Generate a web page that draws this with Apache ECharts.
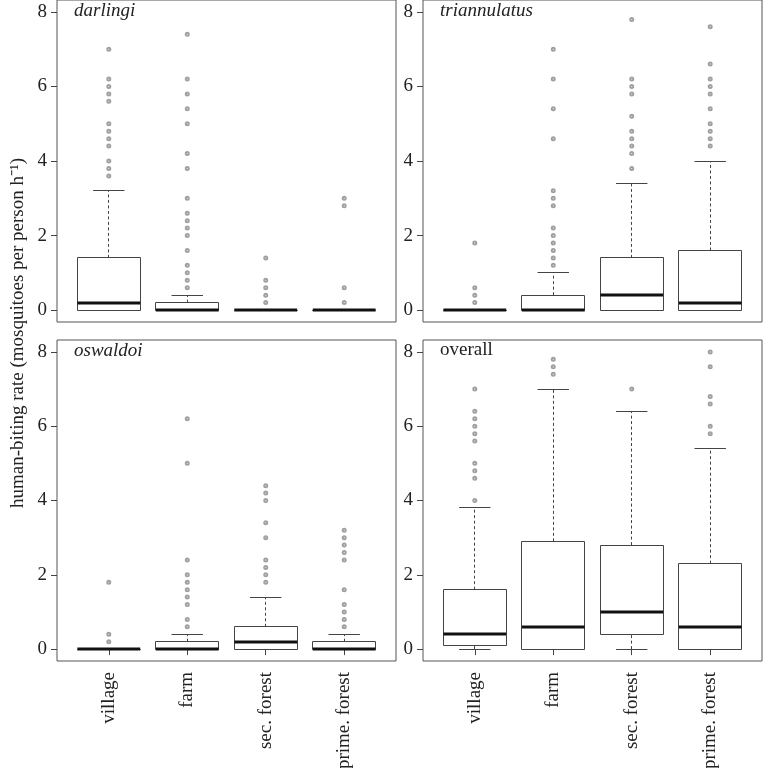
<!DOCTYPE html>
<html>
<head>
<meta charset="utf-8">
<script src="https://cdn.jsdelivr.net/npm/echarts@6/dist/echarts.min.js"></script>
<style>html,body{margin:0;padding:0;background:#fff}#c{width:764px;height:768px}</style>
</head>
<body>
<div id="c"></div>
<script>
// ---------- data ----------
const categories = ['village', 'farm', 'sec. forest', 'prime. forest'];
const yTicks = [0, 2, 4, 6, 8];
const xTicks = [1, 2, 3, 4];
const panelTitles = ['darlingi', 'triannulatus', 'oswaldoi', 'overall'];
const yTitle = 'human-biting rate (mosquitoes per person h\u207B\u00B9)';

// box stats per category: [lower whisker, Q1, median, Q3, upper whisker]
const darlingiStats = [[0, 0, 0.2, 1.4, 3.2], [0, 0, 0, 0.2, 0.4], [0, 0, 0, 0, 0], [0, 0, 0, 0, 0]];
const darlingiOutliers = [
  [3.6, 3.8, 4.0, 4.4, 4.6, 4.8, 5.0, 5.6, 5.8, 6.0, 6.2, 7.0],
  [0.6, 0.8, 1.0, 1.2, 1.6, 2.0, 2.2, 2.4, 2.6, 3.0, 3.8, 4.2, 5.0, 5.4, 5.8, 6.2, 7.4],
  [0.2, 0.4, 0.6, 0.8, 1.4],
  [0.2, 0.6, 2.8, 3.0]
];

const triannulatusStats = [[0, 0, 0, 0, 0], [0, 0, 0, 0.4, 1.0], [0, 0, 0.4, 1.4, 3.4], [0, 0, 0.2, 1.6, 4.0]];
const triannulatusOutliers = [
  [0.2, 0.4, 0.6, 1.8],
  [1.2, 1.4, 1.6, 1.8, 2.0, 2.2, 2.8, 3.0, 3.2, 4.6, 5.4, 6.2, 7.0],
  [3.8, 4.2, 4.4, 4.6, 4.8, 5.2, 5.8, 6.0, 6.2, 7.8],
  [4.4, 4.6, 4.8, 5.0, 5.4, 5.8, 6.0, 6.2, 6.6, 7.6]
];

const oswaldoiStats = [[0, 0, 0, 0, 0], [0, 0, 0, 0.2, 0.4], [0, 0, 0.2, 0.6, 1.4], [0, 0, 0, 0.2, 0.4]];
const oswaldoiOutliers = [
  [0.2, 0.4, 1.8],
  [0.6, 0.8, 1.2, 1.4, 1.6, 1.8, 2.0, 2.4, 5.0, 6.2],
  [1.8, 2.0, 2.2, 2.4, 3.0, 3.4, 4.0, 4.2, 4.4],
  [0.6, 0.8, 1.0, 1.2, 1.6, 2.4, 2.6, 2.8, 3.0, 3.2]
];

const overallStats = [[0, 0.1, 0.4, 1.6, 3.8], [0, 0, 0.6, 2.9, 7.0], [0, 0.4, 1.0, 2.8, 6.4], [0, 0, 0.6, 2.3, 5.4]];
const overallOutliers = [
  [4.0, 4.6, 4.8, 5.0, 5.6, 5.8, 6.0, 6.2, 6.4, 7.0],
  [7.4, 7.6, 7.8],
  [7.0],
  [5.8, 6.0, 6.6, 6.8, 7.6, 8.0]
];

const panelStats = [darlingiStats, triannulatusStats, oswaldoiStats, overallStats];
const panelOutliers = [darlingiOutliers, triannulatusOutliers, oswaldoiOutliers, overallOutliers];

// ---------- layout ----------
const FONT = "'Liberation Serif', 'DejaVu Serif', serif";
const TXT = '#222';
const grids = [
  { left: 57, top: 0, width: 339, height: 322 },
  { left: 423, top: 0, width: 339, height: 322 },
  { left: 57, top: 340, width: 339, height: 321 },
  { left: 423, top: 340, width: 339, height: 321 }
];

const option = {
  animation: false,
  backgroundColor: '#fff',
  grid: grids.map(g => Object.assign({
    show: true, borderColor: '#555', borderWidth: 1, backgroundColor: 'transparent',
    containLabel: false, outerBoundsMode: 'none'
  }, g)),
  xAxis: grids.map((g, i) => ({
    type: 'value', gridIndex: i, min: 0.34, max: 4.66,
    splitLine: { show: false },
    axisLine: { show: false },
    axisTick: { show: i >= 2, length: 6, customValues: xTicks, lineStyle: { color: '#444' } },
    axisLabel: {
      show: i >= 2, customValues: xTicks, rotate: 90, margin: 11,
      fontFamily: FONT, fontSize: 19, color: TXT,
      formatter: v => categories[Math.round(v) - 1] || ''
    }
  })),
  yAxis: grids.map((g, i) => ({
    type: 'value', gridIndex: i, min: -0.32, max: 8.32,
    splitLine: { show: false },
    axisLine: { show: false },
    axisTick: { show: true, length: 6, customValues: yTicks, lineStyle: { color: '#444' } },
    axisLabel: { customValues: yTicks, margin: 10, fontFamily: FONT, fontSize: 19, color: TXT }
  })),
  graphic: [
    { type: 'text', left: 74, top: 1, style: { text: panelTitles[0], font: "italic 19px 'Liberation Serif'", fill: TXT } },
    { type: 'text', left: 440, top: 1, style: { text: panelTitles[1], font: "italic 19px 'Liberation Serif'", fill: TXT } },
    { type: 'text', left: 74, top: 341, style: { text: panelTitles[2], font: "italic 19px 'Liberation Serif'", fill: TXT } },
    { type: 'text', left: 440, top: 341, style: { text: panelTitles[3], font: "19px 'Liberation Serif'", fill: TXT } },
    { type: 'text', x: 18, y: 333, rotation: Math.PI / 2,
      style: { text: yTitle, font: "19px 'Liberation Serif'", fill: TXT, align: 'center', verticalAlign: 'middle' } }
  ],
  series: []
};

function crisp(v) { return Math.round(v - 0.5) + 0.5; }

function renderBox(params, api) {
  const x = api.value(0);
  const lo = api.value(1), q1 = api.value(2), med = api.value(3), q3 = api.value(4), hi = api.value(5);
  const hw = 0.4, cw = 0.2;
  const P = (a, b) => api.coord([a, b]);
  const stroke = '#444';
  const children = [];
  const cx = crisp(P(x, 0)[0]);
  if (hi > q3) {
    children.push({ type: 'line', shape: { x1: cx, y1: P(x, q3)[1], x2: cx, y2: P(x, hi)[1] },
      style: { stroke: stroke, lineWidth: 1, lineDash: [3, 2.5] } });
  }
  if (q1 > lo) {
    children.push({ type: 'line', shape: { x1: cx, y1: P(x, lo)[1], x2: cx, y2: P(x, q1)[1] },
      style: { stroke: stroke, lineWidth: 1, lineDash: [3, 2.5] } });
  }
  [hi, lo].forEach(v => {
    const a = P(x - cw, v), b = P(x + cw, v);
    children.push({ type: 'line', shape: { x1: a[0], y1: crisp(a[1]), x2: b[0], y2: crisp(b[1]) },
      style: { stroke: stroke, lineWidth: 1 } });
  });
  const tl = P(x - hw, q3), br = P(x + hw, q1);
  const rx = crisp(tl[0]), ry = crisp(tl[1]);
  children.push({ type: 'rect',
    shape: { x: rx, y: ry, width: crisp(br[0]) - rx, height: crisp(br[1]) - ry },
    style: { fill: '#fff', stroke: stroke, lineWidth: 1 } });
  const m1 = P(x - hw, med), m2 = P(x + hw, med);
  children.push({ type: 'line', shape: { x1: m1[0], y1: Math.round(m1[1]), x2: m2[0], y2: Math.round(m2[1]) },
    style: { stroke: '#111', lineWidth: 3 } });
  return { type: 'group', children: children };
}

for (let i = 0; i < 4; i++) {
  const boxData = panelStats[i].map((s, k) => [xTicks[k]].concat(s));
  option.series.push({
    type: 'custom', xAxisIndex: i, yAxisIndex: i,
    renderItem: renderBox,
    encode: { x: 0, y: [1, 2, 3, 4, 5] },
    clip: false,
    data: boxData,
    z: 2
  });
  const outData = [];
  panelOutliers[i].forEach((arr, k) => arr.forEach(v => outData.push([xTicks[k], v])));
  option.series.push({
    type: 'scatter', xAxisIndex: i, yAxisIndex: i,
    symbol: 'emptyCircle', symbolSize: 3,
    itemStyle: { color: '#888', borderColor: '#888', borderWidth: 0.9 },
    data: outData,
    z: 3
  });
}

const chart = echarts.init(document.getElementById('c'), null, { renderer: 'canvas' });
chart.setOption(option);
</script>
</body>
</html>
